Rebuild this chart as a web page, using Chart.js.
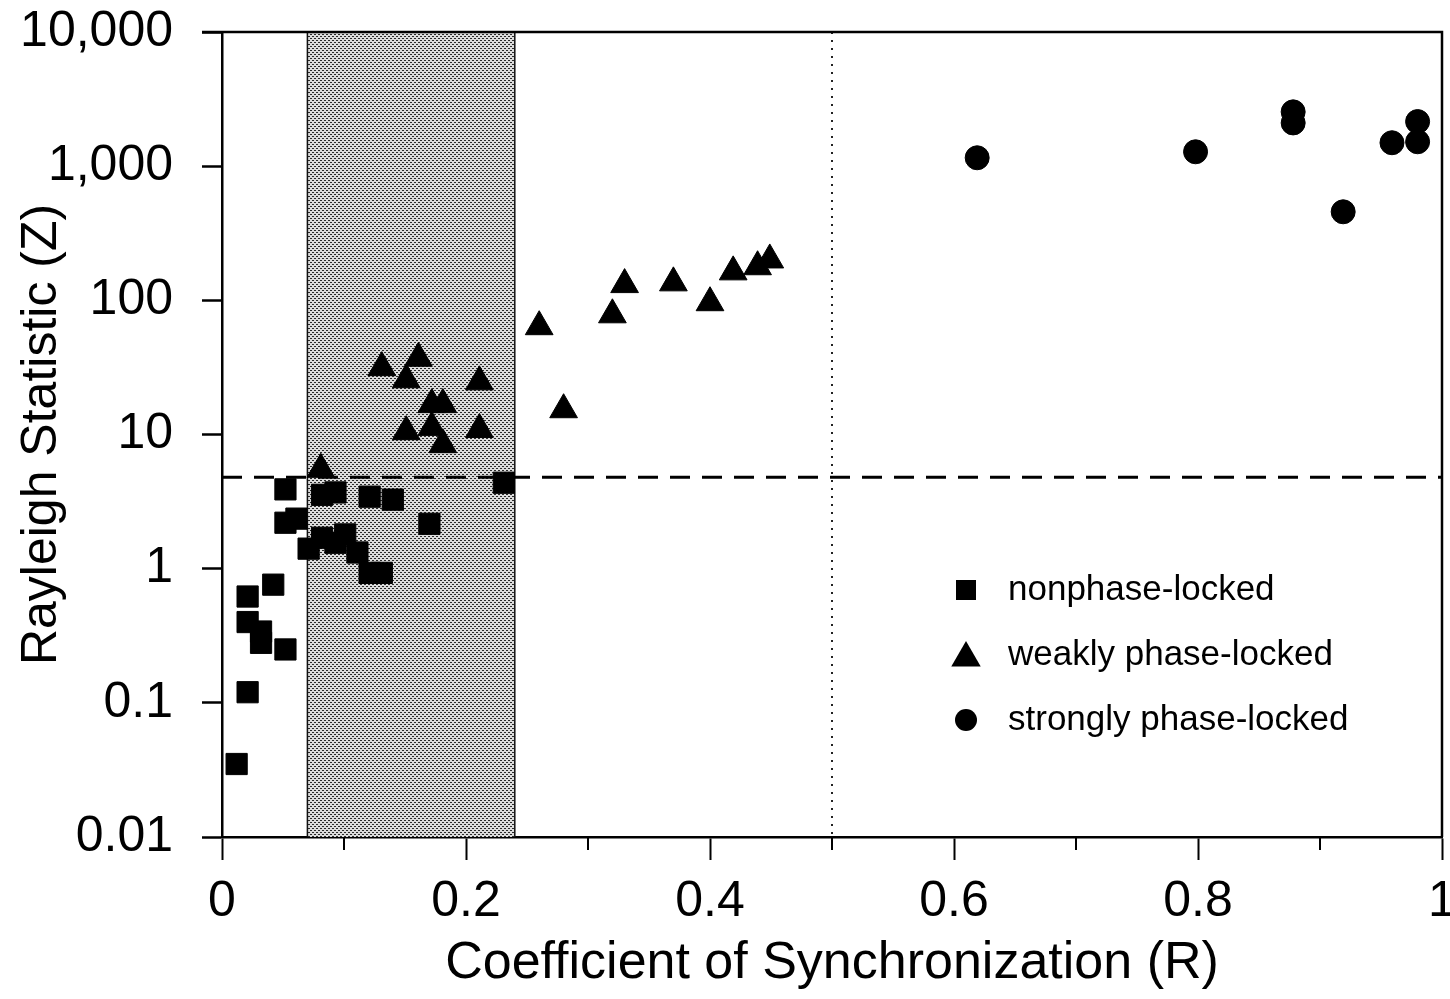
<!DOCTYPE html>
<html lang="en">
<head>
    <meta charset="UTF-8">
    <title>Rayleigh Statistic vs Coefficient of Synchronization</title>
    <script src="https://cdn.jsdelivr.net/npm/chart.js"></script>
    <style>
        html, body {
            margin: 0;
            padding: 0;
            background: #fff;
        }
    </style>
</head>
<body>
    <canvas id="rayleighChart" width="1450" height="999"></canvas>

    <script>
        // --- data ---
        const nonLockedR = [0.012, 0.021, 0.021, 0.021, 0.032, 0.032, 0.042, 0.052, 0.052, 0.052, 0.061, 0.071,
                            0.082, 0.082, 0.093, 0.093, 0.101, 0.111, 0.121, 0.131, 0.121, 0.140, 0.170, 0.231];
        const nonLockedZ = [0.035, 0.12, 0.62, 0.40, 0.34, 0.28, 0.76, 0.25, 3.9, 2.2, 2.36, 1.41,
                            1.7, 3.55, 3.7, 1.56, 1.8, 1.32, 0.93, 0.93, 3.44, 3.27, 2.16, 4.37];

        const weakR = [0.131, 0.161, 0.151, 0.211, 0.172, 0.181, 0.151, 0.172, 0.181, 0.211, 0.081,
                       0.26, 0.28, 0.32, 0.33, 0.37, 0.40, 0.419, 0.439, 0.449];
        const weakZ = [31.5, 37, 25.6, 24.7, 16.7, 16.7, 10.5, 11.3, 8.4, 10.9, 5.5,
                       63.6, 15.3, 78, 131, 135, 96, 163, 178, 200];

        const strongR = [0.619, 0.798, 0.878, 0.878, 0.919, 0.959, 0.98, 0.98];
        const strongZ = [1155, 1280, 2540, 2100, 457, 1495, 2150, 1520];

        const seriesLabels = ['nonphase-locked', 'weakly phase-locked', 'strongly phase-locked'];

        const xTickValues = [0, 0.2, 0.4, 0.6, 0.8, 1];
        const xTickLabels = ['0', '0.2', '0.4', '0.6', '0.8', '1'];
        const xMinorTicks = [0.1, 0.3, 0.5, 0.7, 0.9];
        const yTickValues = [0.01, 0.1, 1, 10, 100, 1000, 10000];
        const yTickLabels = ['0.01', '0.1', '1', '10', '100', '1,000', '10,000'];

        // reference marks
        const shadedBand = [0.07, 0.24];
        const zThreshold = 4.8;
        const rCutoff = 0.5;

        const FONT = '"Liberation Sans", Arial, Helvetica, sans-serif';

        function toPoints(xs, ys) {
            return xs.map((x, i) => ({ x: x, y: ys[i] }));
        }

        // dotted grey fill like the printed screen tone
        function makeStipple(ctx) {
            const c = document.createElement('canvas');
            c.width = 4;
            c.height = 4;
            const g = c.getContext('2d');
            g.fillStyle = '#dcdcdc';
            g.fillRect(0, 0, 4, 4);
            g.fillStyle = '#2a2a2a';
            g.fillRect(0, 0, 2, 1);
            g.fillRect(2, 2, 2, 1);
            return ctx.createPattern(c, 'repeat');
        }

        function drawMarker(ctx, style, x, y, r) {
            ctx.beginPath();
            if (style === 'rect') {
                ctx.rect(x - r, y - r, 2 * r, 2 * r);
            } else if (style === 'triangle') {
                ctx.moveTo(x, y - r);
                ctx.lineTo(x + r * 0.866, y + r * 0.5);
                ctx.lineTo(x - r * 0.866, y + r * 0.5);
                ctx.closePath();
            } else {
                ctx.arc(x, y, r, 0, Math.PI * 2);
            }
            ctx.fill();
        }

        // shaded band, threshold lines, frame, minor ticks
        const overlayPlugin = {
            id: 'overlay',
            beforeDatasetsDraw(chart) {
                const { ctx, chartArea: a, scales: { x, y } } = chart;
                ctx.save();

                const b0 = x.getPixelForValue(shadedBand[0]);
                const b1 = x.getPixelForValue(shadedBand[1]);
                ctx.fillStyle = makeStipple(ctx);
                ctx.fillRect(b0, a.top, b1 - b0, a.bottom - a.top);
                ctx.strokeStyle = '#111';
                ctx.lineWidth = 1.5;
                ctx.beginPath();
                ctx.moveTo(b0, a.top); ctx.lineTo(b0, a.bottom);
                ctx.moveTo(b1, a.top); ctx.lineTo(b1, a.bottom);
                ctx.stroke();

                // dotted vertical at R = 0.5
                const xc = x.getPixelForValue(rCutoff);
                ctx.setLineDash([2, 6]);
                ctx.lineWidth = 2;
                ctx.strokeStyle = '#222';
                ctx.beginPath();
                ctx.moveTo(xc, a.top);
                ctx.lineTo(xc, a.bottom);
                ctx.stroke();

                // dashed horizontal at significance level
                const yz = y.getPixelForValue(zThreshold);
                ctx.setLineDash([20, 12]);
                ctx.lineWidth = 3;
                ctx.strokeStyle = '#000';
                ctx.beginPath();
                ctx.moveTo(a.left, yz);
                ctx.lineTo(a.right, yz);
                ctx.stroke();
                ctx.setLineDash([]);

                // top and right frame
                ctx.lineWidth = 2.5;
                ctx.beginPath();
                ctx.moveTo(a.left - 20, a.top);
                ctx.lineTo(a.right, a.top);
                ctx.lineTo(a.right, a.bottom);
                ctx.stroke();

                // minor x ticks
                ctx.lineWidth = 2;
                ctx.beginPath();
                xMinorTicks.forEach(v => {
                    const px = x.getPixelForValue(v);
                    ctx.moveTo(px, a.bottom);
                    ctx.lineTo(px, a.bottom + 13);
                });
                ctx.stroke();
                ctx.restore();
            }
        };

        // legend sitting inside the plot, lower right
        const legendPlugin = {
            id: 'insideLegend',
            afterDatasetsDraw(chart) {
                const ctx = chart.ctx;
                const rows = [
                    { style: 'rect', r: 10 },
                    { style: 'triangle', r: 17 },
                    { style: 'circle', r: 11 }
                ];
                ctx.save();
                ctx.fillStyle = '#000';
                ctx.font = '35px ' + FONT;
                ctx.textBaseline = 'middle';
                ctx.textAlign = 'left';
                chart.data.datasets.forEach((ds, i) => {
                    const yy = 590 + i * 65;
                    drawMarker(ctx, rows[i].style, 966, yy + (rows[i].style === 'triangle' ? 3 : 0), rows[i].r);
                    ctx.fillText(ds.label, 1008, yy);
                });
                ctx.restore();
            }
        };

        const ctx = document.getElementById('rayleighChart').getContext('2d');

        new Chart(ctx, {
            type: 'scatter',
            data: {
                datasets: [
                    {
                        label: seriesLabels[0],
                        data: toPoints(nonLockedR, nonLockedZ),
                        pointStyle: 'rect',
                        pointRadius: 15,
                        backgroundColor: '#000',
                        borderColor: '#000',
                        borderWidth: 1
                    },
                    {
                        label: seriesLabels[1],
                        data: toPoints(weakR, weakZ),
                        pointStyle: 'triangle',
                        pointRadius: 16,
                        backgroundColor: '#000',
                        borderColor: '#000',
                        borderWidth: 1
                    },
                    {
                        label: seriesLabels[2],
                        data: toPoints(strongR, strongZ),
                        pointStyle: 'circle',
                        pointRadius: 12,
                        backgroundColor: '#000',
                        borderColor: '#000',
                        borderWidth: 1
                    }
                ]
            },
            options: {
                responsive: false,
                animation: false,
                layout: {
                    autoPadding: false,
                    padding: { top: 32, right: 8, left: 0, bottom: 0 }
                },
                plugins: {
                    legend: { display: false },
                    tooltip: { enabled: false }
                },
                scales: {
                    x: {
                        type: 'linear',
                        min: 0,
                        max: 1,
                        afterBuildTicks: s => { s.ticks = xTickValues.map(v => ({ value: v })); },
                        afterFit: s => { s.height = 162; s.paddingLeft = 0; s.paddingRight = 0; },
                        ticks: {
                            callback: (v, i) => xTickLabels[i],
                            color: '#000',
                            font: { family: FONT, size: 50 },
                            padding: 12,
                            maxRotation: 0
                        },
                        grid: {
                            drawOnChartArea: false,
                            drawTicks: true,
                            tickLength: 23,
                            tickWidth: 2,
                            tickColor: '#000'
                        },
                        border: { color: '#000', width: 2.5 },
                        title: {
                            display: true,
                            text: 'Coefficient of Synchronization (R)',
                            color: '#000',
                            font: { family: FONT, size: 52 },
                            padding: { top: 0, bottom: 4 }
                        }
                    },
                    y: {
                        type: 'logarithmic',
                        min: 0.01,
                        max: 10000,
                        afterBuildTicks: s => { s.ticks = yTickValues.map(v => ({ value: v })); },
                        afterFit: s => { s.width = 222; s.paddingTop = 0; s.paddingBottom = 0; },
                        ticks: {
                            callback: (v, i) => yTickLabels[i],
                            color: '#000',
                            font: { family: FONT, size: 50 },
                            padding: 29
                        },
                        grid: {
                            drawOnChartArea: false,
                            drawTicks: true,
                            tickLength: 20,
                            tickWidth: 2.5,
                            tickColor: '#000'
                        },
                        border: { color: '#000', width: 2.5 },
                        title: {
                            display: true,
                            text: 'Rayleigh Statistic (Z)',
                            color: '#000',
                            font: { family: FONT, size: 50, lineHeight: 1 },
                            padding: { top: 17, bottom: 0 }
                        }
                    }
                }
            },
            plugins: [overlayPlugin, legendPlugin]
        });
    </script>
</body>
</html>
